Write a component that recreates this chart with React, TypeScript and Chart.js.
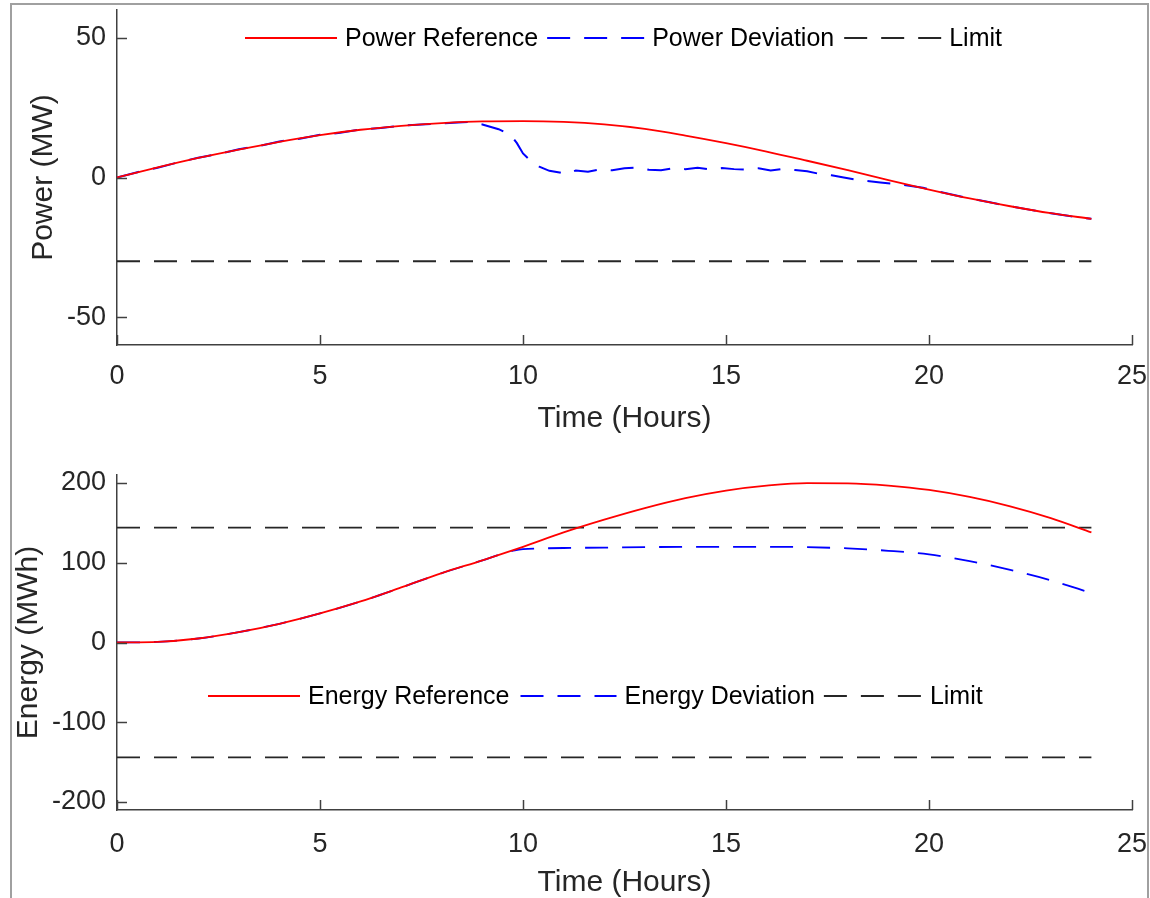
import React, { useEffect, useRef } from "react";
import { Chart, registerables } from "chart.js";

Chart.register(...registerables);

const FONT = '"Liberation Sans", Arial, Helvetica, sans-serif';
const TEXT = "#262626";
const AXIS = "#404040";

// ---------- data ----------
const hours = [0, 1, 2, 3, 4, 5, 6, 7, 8, 9, 10, 11, 12, 13, 14, 15, 16, 17, 18, 19, 20, 21, 22, 23, 24];
const powerReference = [0, 3.6, 7.0, 10.0, 12.8, 15.2, 17.1, 18.5, 19.5, 20.1, 20.2, 19.9, 19.0, 17.4, 15.0, 12.3, 9.3, 6.0, 2.6, -0.9, -4.3, -7.5, -10.3, -12.8, -14.8];

const powerDevTimes = [0, 0.5, 1, 1.5, 2, 2.5, 3, 3.5, 4, 4.5, 5, 5.5, 6, 6.5, 7, 7.5, 8, 8.4, 8.7, 9.0, 9.4, 9.7, 9.85, 10.0, 10.2, 10.4, 10.65, 10.9, 11.05, 11.3, 11.6, 11.9, 12.2, 12.5, 12.8, 13.1, 13.4, 13.7, 14.0, 14.3, 14.6, 14.9, 15.2, 15.5, 15.8, 16.1, 16.4, 16.7, 17.0, 17.3, 17.6, 17.9, 18.3, 18.8, 19.3, 19.85, 20.5, 21, 21.5, 22, 22.5, 23, 23.5, 24];
const powerDeviation = [0, 1.9, 3.5, 5.4, 7.1, 8.4, 10.1, 11.3, 12.9, 13.9, 15.3, 16.0, 17.2, 17.7, 18.6, 19.0, 19.4, 19.7, 19.9, 19.0, 17.3, 15.2, 12.3, 8.6, 5.8, 3.9, 2.4, 1.8, 1.2, 2.5, 2.1, 2.9, 2.6, 3.3, 3.6, 2.8, 2.6, 3.3, 3.0, 3.5, 2.9, 3.4, 3.0, 2.8, 3.3, 2.5, 3.1, 2.7, 2.2, 1.3, 0.8, 0.0, -1.0, -1.8, -2.5, -3.7, -5.9, -7.5, -8.9, -10.3, -11.6, -12.8, -13.9, -14.8];

const powerLimit = [-30, -30];
const limitHours = [0, 24];

const energyReference = [0, 0.8, 5, 13, 23.5, 36.5, 51.5, 69, 87, 103, 120, 138, 154, 168.5, 181, 190.5, 196.6, 199.8, 199.6, 196.8, 191.3, 182.5, 170.8, 156, 138];
const energyDevTimes = [0, 1, 2, 3, 4, 5, 6, 7, 8, 9, 9.5, 9.8, 10, 10.5, 11, 12, 13, 14, 15, 16, 17, 18, 19, 20, 21, 22, 23, 24];
const energyDeviation = [0, 0.8, 5, 13, 23.5, 36.5, 51.5, 69, 87, 103, 111.5, 115.5, 117, 118, 118.5, 119, 119.5, 120, 120, 120, 119.5, 118, 115, 110.5, 102, 91, 78, 62];
const energyUpperLimit = [144, 144];
const energyLowerLimit = [-144, -144];

const xTicks = [0, 5, 10, 15, 20, 25];
const powerTicks = [-50, 0, 50];
const energyTicks = [-200, -100, 0, 100, 200];

const pts = (xs: number[], ys: number[]) => xs.map((x, i) => ({ x, y: ys[i] }));

// ---------- plugins ----------
const innerTicks = {
  id: "innerTicks",
  afterDraw(chart: any) {
    const { ctx, chartArea, scales } = chart;
    ctx.save();
    ctx.strokeStyle = AXIS;
    ctx.lineWidth = 1.5;
    scales.y.ticks.forEach((t: any) => {
      const py = Math.round(scales.y.getPixelForValue(t.value)) + 0.5;
      ctx.beginPath();
      ctx.moveTo(chartArea.left, py);
      ctx.lineTo(chartArea.left + 10, py);
      ctx.stroke();
    });
    scales.x.ticks.forEach((t: any) => {
      const px = Math.round(scales.x.getPixelForValue(t.value)) + 0.5;
      ctx.beginPath();
      ctx.moveTo(px, chartArea.bottom);
      ctx.lineTo(px, chartArea.bottom - 10);
      ctx.stroke();
    });
    ctx.restore();
  },
};

const customLegend = {
  id: "customLegend",
  afterDraw(chart: any, _args: any, opts: any) {
    if (!opts || !opts.items) return;
    const { ctx } = chart;
    ctx.save();
    ctx.font = `25px ${FONT}`;
    ctx.textBaseline = "middle";
    let x = opts.x;
    const y = opts.y;
    opts.items.forEach((it: any) => {
      ctx.beginPath();
      ctx.strokeStyle = it.color;
      ctx.lineWidth = it.width;
      ctx.setLineDash(it.dash || []);
      ctx.moveTo(x, y);
      ctx.lineTo(x + it.sample, y);
      ctx.stroke();
      ctx.setLineDash([]);
      x += it.sample + 8;
      ctx.fillStyle = "#000";
      ctx.fillText(it.label, x, y + 1);
      x += ctx.measureText(it.label).width + it.after;
    });
    ctx.restore();
  },
};

type PlotProps = {
  top: number;
  height: number;
  padTop: number;
  xScaleHeight: number;
  yTitle: string;
  yTitlePad: number;
  xTitlePad: number;
  xTickPad: number;
  yMin: number;
  yMax: number;
  yTicks: number[];
  datasets: any[];
  legend: any;
};

const zeroPad = (s: any) => {
  s.paddingTop = 0;
  s.paddingBottom = 0;
  s.paddingLeft = 0;
  s.paddingRight = 0;
};

function Plot(p: PlotProps) {
  const ref = useRef<HTMLCanvasElement | null>(null);
  useEffect(() => {
    if (!ref.current) return;
    const chart = new Chart(ref.current, {
      type: "line",
      data: { datasets: p.datasets },
      options: {
        responsive: false,
        animation: false,
        devicePixelRatio: 1,
        layout: { padding: { top: p.padTop, right: 18, left: 0, bottom: 0 } },
        elements: { point: { radius: 0 } },
        plugins: {
          legend: { display: false },
          tooltip: { enabled: false },
          customLegend: p.legend,
        } as any,
        scales: {
          x: {
            type: "linear",
            min: 0,
            max: 25,
            afterBuildTicks: (s: any) => {
              s.ticks = xTicks.map((v) => ({ value: v }));
            },
            afterFit: (s: any) => {
              s.height = p.xScaleHeight;
              zeroPad(s);
            },
            grid: { display: false, drawTicks: false, tickLength: 0 },
            border: { display: true, color: AXIS, width: 1.5 },
            ticks: {
              color: TEXT,
              font: { family: FONT, size: 27 },
              padding: p.xTickPad,
              maxRotation: 0,
              autoSkip: false,
            },
            title: {
              display: true,
              text: "Time (Hours)",
              color: TEXT,
              font: { family: FONT, size: 30, lineHeight: 1 },
              padding: { top: 0, bottom: p.xTitlePad },
            },
          },
          y: {
            type: "linear",
            min: p.yMin,
            max: p.yMax,
            afterBuildTicks: (s: any) => {
              s.ticks = p.yTicks.map((v) => ({ value: v }));
            },
            afterFit: (s: any) => {
              s.width = 117;
              zeroPad(s);
            },
            grid: { display: false, drawTicks: false, tickLength: 0 },
            border: { display: true, color: AXIS, width: 1.5 },
            ticks: {
              color: TEXT,
              font: { family: FONT, size: 27 },
              padding: 11,
              autoSkip: false,
            },
            title: {
              display: true,
              text: p.yTitle,
              color: TEXT,
              font: { family: FONT, size: 30, lineHeight: 1 },
              padding: { top: p.yTitlePad, bottom: 0 },
            },
          },
        },
      },
      plugins: [innerTicks, customLegend],
    });
    return () => chart.destroy();
  }, []);
  return (
    <canvas
      ref={ref}
      width={1150}
      height={p.height}
      style={{ position: "absolute", left: 0, top: p.top, width: 1150, height: p.height, display: "block" }}
    />
  );
}

const RED = "#ff0000";
const BLUE = "#0000ff";
const BLACK = "#262626";
const DASH = [23, 14];

export default function App() {
  const powerSets = [
    { label: "Power Reference", data: pts(hours, powerReference), borderColor: RED, borderWidth: 1.8, cubicInterpolationMode: "monotone" },
    { label: "Power Deviation", data: pts(powerDevTimes, powerDeviation), borderColor: BLUE, borderWidth: 2, borderDash: DASH, tension: 0 },
    { label: "Limit", data: pts(limitHours, powerLimit), borderColor: BLACK, borderWidth: 1.8, borderDash: DASH },
  ];
  const energySets = [
    { label: "Energy Reference", data: pts(hours, energyReference), borderColor: RED, borderWidth: 1.8, cubicInterpolationMode: "monotone" },
    { label: "Energy Deviation", data: pts(energyDevTimes, energyDeviation), borderColor: BLUE, borderWidth: 1.8, borderDash: DASH, cubicInterpolationMode: "monotone" },
    { label: "Limit", data: pts(limitHours, energyUpperLimit), borderColor: BLACK, borderWidth: 1.8, borderDash: DASH },
    { label: "Limit (lower)", data: pts(limitHours, energyLowerLimit), borderColor: BLACK, borderWidth: 1.8, borderDash: DASH },
  ];
  const powerLegend = {
    x: 245,
    y: 38,
    items: [
      { label: "Power Reference", color: RED, width: 1.8, sample: 92, after: 9 },
      { label: "Power Deviation", color: BLUE, width: 2, dash: DASH, sample: 97, after: 10 },
      { label: "Limit", color: BLACK, width: 1.8, dash: DASH, sample: 97, after: 9 },
    ],
  };
  const energyLegend = {
    x: 208,
    y: 246,
    items: [
      { label: "Energy Reference", color: RED, width: 1.8, sample: 92, after: 11 },
      { label: "Energy Deviation", color: BLUE, width: 1.8, dash: DASH, sample: 96, after: 9 },
      { label: "Limit", color: BLACK, width: 1.8, dash: DASH, sample: 98, after: 9 },
    ],
  };
  return (
    <div style={{ position: "absolute", left: 0, top: 0, width: 1150, height: 898, background: "#fff", overflow: "hidden" }}>
      <div
        style={{
          position: "absolute",
          left: 10,
          top: 3,
          width: 1139,
          height: 1000,
          border: "2px solid #a0a0a0",
          boxSizing: "border-box",
        }}
      />
      <Plot
        top={0}
        height={450}
        padTop={10}
        xScaleHeight={105}
        yTitle="Power (MW)"
        yTitlePad={29}
        xTitlePad={16}
        xTickPad={15}
        yMin={-60}
        yMax={60}
        yTicks={powerTicks}
        datasets={powerSets}
        legend={powerLegend}
      />
      <Plot
        top={450}
        height={448}
        padTop={25}
        xScaleHeight={88}
        yTitle="Energy (MWh)"
        yTitlePad={14}
        xTitlePad={0}
        xTickPad={18}
        yMin={-210}
        yMax={210}
        yTicks={energyTicks}
        datasets={energySets}
        legend={energyLegend}
      />
    </div>
  );
}
